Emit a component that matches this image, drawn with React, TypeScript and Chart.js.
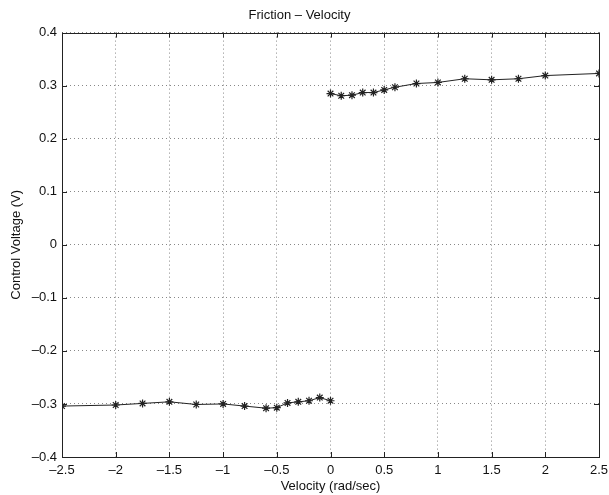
import React, { useEffect, useRef } from "react";
import { Chart, registerables } from "chart.js";

Chart.register(...registerables);

const negVelocity = [-2.5, -2.0, -1.75, -1.5, -1.25, -1.0, -0.8, -0.6, -0.5, -0.4, -0.3, -0.2, -0.1, 0];
const negVoltage = [-0.304, -0.302, -0.299, -0.296, -0.301, -0.3, -0.304, -0.308, -0.307, -0.298, -0.296, -0.294, -0.288, -0.294];
const posVelocity = [0, 0.1, 0.2, 0.3, 0.4, 0.5, 0.6, 0.8, 1.0, 1.25, 1.5, 1.75, 2.0, 2.5];
const posVoltage = [0.285, 0.281, 0.282, 0.287, 0.287, 0.292, 0.297, 0.304, 0.306, 0.313, 0.311, 0.313, 0.319, 0.323];

const titleText = "Friction \u2013 Velocity";
const xTitle = "Velocity (rad/sec)";
const yTitle = "Control Voltage (V)";

const FONT = "'Liberation Sans', Arial, Helvetica, sans-serif";

const fmt = (v: number) => {
  const r = Math.round(v * 100) / 100;
  if (Math.abs(r) < 1e-9) return "0";
  const s = String(Math.abs(r));
  return (r < 0 ? "\u2013" : "") + s;
};

const boxPlugin = {
  id: "matlabBox",
  afterDraw(chart: any) {
    const { ctx, chartArea: a, scales } = chart;
    ctx.save();
    ctx.strokeStyle = "#222";
    ctx.lineWidth = 1;
    ctx.setLineDash([]);
    ctx.strokeRect(Math.round(a.left) + 0.5, Math.round(a.top) + 0.5, Math.round(a.right - a.left), Math.round(a.bottom - a.top));
    const tl = 5;
    ctx.beginPath();
    scales.x.ticks.forEach((t: any) => {
      const px = Math.round(scales.x.getPixelForValue(t.value)) + 0.5;
      ctx.moveTo(px, a.bottom);
      ctx.lineTo(px, a.bottom - tl);
      ctx.moveTo(px, a.top);
      ctx.lineTo(px, a.top + tl);
    });
    scales.y.ticks.forEach((t: any) => {
      const py = Math.round(scales.y.getPixelForValue(t.value)) + 0.5;
      ctx.moveTo(a.left, py);
      ctx.lineTo(a.left + tl, py);
      ctx.moveTo(a.right, py);
      ctx.lineTo(a.right - tl, py);
    });
    ctx.stroke();
    ctx.restore();
  },
};

export default function App() {
  const ref = useRef<HTMLCanvasElement>(null);
  useEffect(() => {
    document.body.style.margin = "0";
    const canvas = ref.current!;
    const ds = (xs: number[], ys: number[]) => ({
      data: xs.map((x, i) => ({ x, y: ys[i] })),
      borderColor: "#222",
      backgroundColor: "#222",
      borderWidth: 1,
      pointStyle: "star",
      pointRadius: 4,
      pointBorderWidth: 1.2,
      tension: 0,
    });
    const chart = new Chart(canvas, {
      type: "line",
      data: {
        datasets: [ds(negVelocity, negVoltage), ds(posVelocity, posVoltage)],
      },
      options: {
        animation: false,
        responsive: false,
        maintainAspectRatio: false,
        layout: { padding: { left: 0, right: 10, top: 0, bottom: 0 } },
        plugins: {
          legend: { display: false },
          tooltip: { enabled: false },
          title: {
            display: true,
            text: titleText,
            color: "#111",
            font: { family: FONT, size: 13, weight: "normal" },
            padding: { top: 8, bottom: 9 },
          },
        },
        scales: {
          x: {
            type: "linear",
            min: -2.5,
            max: 2.5,
            afterBuildTicks: (s: any) => {
              const t = [];
              for (let v = -2.5; v <= 2.5001; v += 0.5) t.push({ value: Math.round(v * 10) / 10 });
              s.ticks = t;
            },
            afterFit: (s: any) => {
              s.height = 38;
              s.paddingLeft = 0;
              s.paddingRight = 0;
            },
            grid: { color: "#888", lineWidth: 1, drawTicks: false },
            border: { display: false, dash: [1, 3] },
            ticks: {
              color: "#111",
              font: { family: FONT, size: 13 },
              padding: 6,
              maxRotation: 0,
              autoSkip: false,
              callback: (v: any) => fmt(Number(v)),
            },
            title: {
              display: true,
              text: xTitle,
              color: "#111",
              font: { family: FONT, size: 13 },
              padding: { top: 0, bottom: 1 },
            },
          },
          y: {
            type: "linear",
            min: -0.4,
            max: 0.4,
            afterBuildTicks: (s: any) => {
              const t = [];
              for (let i = -4; i <= 4; i++) t.push({ value: i / 10 });
              s.ticks = t;
            },
            afterFit: (s: any) => {
              s.width = 62;
            },
            grid: { color: "#888", lineWidth: 1, drawTicks: false },
            border: { display: false, dash: [1, 3] },
            ticks: {
              color: "#111",
              font: { family: FONT, size: 13 },
              padding: 5,
              autoSkip: false,
              callback: (v: any) => fmt(Number(v)),
            },
            title: {
              display: true,
              text: yTitle,
              color: "#111",
              font: { family: FONT, size: 13 },
              padding: { top: 9, bottom: 4 },
            },
          },
        },
      } as any,
      plugins: [boxPlugin],
    });
    return () => chart.destroy();
  }, []);
  return (
    <div style={{ width: 609, height: 495 }}>
      <canvas ref={ref} width={609} height={495} style={{ width: 609, height: 495 }} />
    </div>
  );
}
